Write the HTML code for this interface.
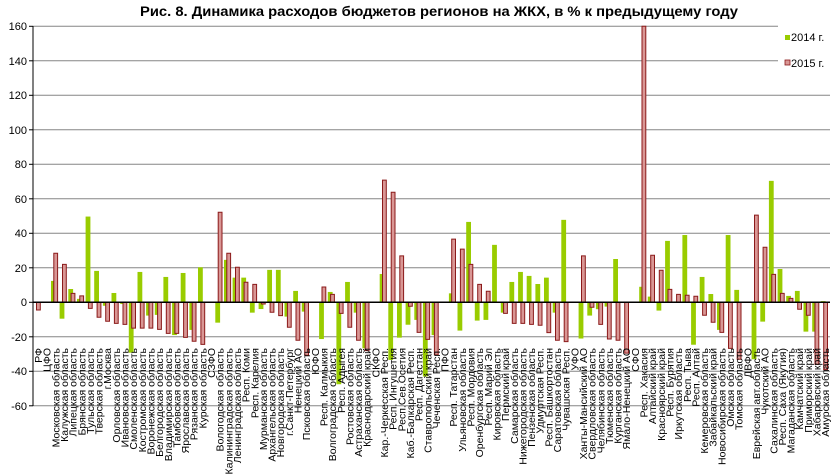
<!DOCTYPE html>
<html><head><meta charset="utf-8"><style>
html,body{margin:0;padding:0;background:#fff;}
svg{display:block;font-family:"Liberation Sans",sans-serif;}
.g{fill:#99cc00;}
.r{fill:#d99795;stroke:#8b1a1a;stroke-width:1;}
.lb text{font-size:10.5px;fill:#000;}
</style></head><body>
<svg width="835" height="474" viewBox="0 0 835 474" xmlns="http://www.w3.org/2000/svg">
<text x="439" y="16" text-anchor="middle" font-size="13.5" font-weight="bold" textLength="598" lengthAdjust="spacingAndGlyphs">Рис. 8. Динамика расходов бюджетов регионов на ЖКХ, в % к предыдущему году</text>
<g stroke="#868686" stroke-width="1">
<line x1="33" y1="26.3" x2="830" y2="26.3"/><line x1="33" y1="60.8" x2="830" y2="60.8"/><line x1="33" y1="95.3" x2="830" y2="95.3"/><line x1="33" y1="129.8" x2="830" y2="129.8"/><line x1="33" y1="164.3" x2="830" y2="164.3"/><line x1="33" y1="198.8" x2="830" y2="198.8"/><line x1="33" y1="233.3" x2="830" y2="233.3"/><line x1="33" y1="267.8" x2="830" y2="267.8"/><line x1="33" y1="336.8" x2="830" y2="336.8"/><line x1="33" y1="371.3" x2="830" y2="371.3"/><line x1="33" y1="405.8" x2="830" y2="405.8"/>
</g>
<g font-size="11" text-anchor="end">
<text x="27" y="30">160</text><text x="27" y="65">140</text><text x="27" y="99">120</text><text x="27" y="134">100</text><text x="27" y="168">80</text><text x="27" y="203">60</text><text x="27" y="237">40</text><text x="27" y="272">20</text><text x="27" y="306">0</text><text x="27" y="341">-20</text><text x="27" y="375">-40</text><text x="27" y="410">-60</text>
</g>
<g stroke="#000" stroke-width="1">
<line x1="33" y1="26" x2="33" y2="406"/>
<line x1="29" y1="26.3" x2="33" y2="26.3"/><line x1="29" y1="60.8" x2="33" y2="60.8"/><line x1="29" y1="95.3" x2="33" y2="95.3"/><line x1="29" y1="129.8" x2="33" y2="129.8"/><line x1="29" y1="164.3" x2="33" y2="164.3"/><line x1="29" y1="198.8" x2="33" y2="198.8"/><line x1="29" y1="233.3" x2="33" y2="233.3"/><line x1="29" y1="267.8" x2="33" y2="267.8"/><line x1="29" y1="302.3" x2="33" y2="302.3"/><line x1="29" y1="336.8" x2="33" y2="336.8"/><line x1="29" y1="371.3" x2="33" y2="371.3"/><line x1="29" y1="405.8" x2="33" y2="405.8"/>
</g>
<g transform="translate(0,302.3) scale(1,-1.725)">
<g class="g">
<rect x="51" y="0" width="4.8" height="12.4"/><rect x="59.6" y="-9.5" width="4.8" height="9.5"/><rect x="68.3" y="0" width="4.8" height="7.7"/><rect x="77" y="0" width="4.8" height="2"/><rect x="85.6" y="0" width="4.8" height="49.7"/><rect x="94.2" y="0" width="4.8" height="18.2"/><rect x="102.9" y="-2" width="4.8" height="2"/><rect x="111.5" y="0" width="4.8" height="5.4"/><rect x="120.2" y="-1" width="4.8" height="1"/><rect x="128.8" y="-29.2" width="4.8" height="29.2"/><rect x="137.5" y="0" width="4.8" height="17.6"/><rect x="146.1" y="-7.7" width="4.8" height="7.7"/><rect x="154.8" y="-7.3" width="4.8" height="7.3"/><rect x="163.4" y="0" width="4.8" height="14.7"/><rect x="172.1" y="-19" width="4.8" height="19"/><rect x="180.7" y="0" width="4.8" height="17"/><rect x="189.4" y="-16" width="4.8" height="16"/><rect x="198" y="0" width="4.8" height="20.3"/>
<rect x="215.3" y="-11.8" width="4.8" height="11.8"/><rect x="224" y="0" width="4.8" height="24.6"/><rect x="232.6" y="0" width="4.8" height="14.3"/><rect x="241.3" y="0" width="4.8" height="14.3"/><rect x="249.9" y="-6" width="4.8" height="6"/><rect x="258.6" y="-3.9" width="4.8" height="3.9"/><rect x="267.2" y="0" width="4.8" height="18.8"/><rect x="275.9" y="0" width="4.8" height="18.8"/><rect x="284.5" y="-8.3" width="4.8" height="8.3"/><rect x="293.2" y="0" width="4.8" height="6.6"/><rect x="301.8" y="-5.4" width="4.8" height="5.4"/>
<rect x="319.1" y="-21.3" width="4.8" height="21.3"/><rect x="327.8" y="0" width="4.8" height="6"/><rect x="336.4" y="-47.5" width="4.8" height="47.5"/><rect x="345.1" y="0" width="4.8" height="11.8"/><rect x="353.7" y="-6" width="4.8" height="6"/><rect x="362.4" y="-26.7" width="4.8" height="26.7"/>
<rect x="379.7" y="0" width="4.8" height="16.4"/><rect x="388.3" y="-33.4" width="4.8" height="33.4"/><rect x="397" y="-20.5" width="4.8" height="20.5"/><rect x="405.6" y="-13" width="4.8" height="13"/><rect x="414.3" y="-10.2" width="4.8" height="10.2"/><rect x="422.9" y="-43" width="4.8" height="43"/><rect x="431.6" y="-19" width="4.8" height="19"/>
<rect x="448.9" y="0" width="4.8" height="5.2"/><rect x="457.5" y="-16.4" width="4.8" height="16.4"/><rect x="466.2" y="0" width="4.8" height="46.6"/><rect x="474.8" y="-10.6" width="4.8" height="10.6"/><rect x="483.5" y="-10.2" width="4.8" height="10.2"/><rect x="492.1" y="0" width="4.8" height="33.3"/><rect x="500.8" y="-6" width="4.8" height="6"/><rect x="509.4" y="0" width="4.8" height="11.8"/><rect x="518.1" y="0" width="4.8" height="17.6"/><rect x="526.7" y="0" width="4.8" height="15.3"/><rect x="535.4" y="0" width="4.8" height="10.6"/><rect x="544" y="0" width="4.8" height="14.3"/><rect x="552.7" y="-6" width="4.8" height="6"/><rect x="561.3" y="0" width="4.8" height="47.8"/>
<rect x="578.6" y="-21" width="4.8" height="21"/><rect x="587.3" y="-7.7" width="4.8" height="7.7"/><rect x="595.9" y="-4" width="4.8" height="4"/><rect x="604.6" y="-2.5" width="4.8" height="2.5"/><rect x="613.2" y="0" width="4.8" height="25.1"/>
<rect x="639.2" y="0" width="4.8" height="9"/><rect x="647.8" y="0" width="4.8" height="3.3"/><rect x="656.5" y="-4.8" width="4.8" height="4.8"/><rect x="665.1" y="0" width="4.8" height="35.6"/><rect x="673.8" y="0" width="4.8" height="0.5"/><rect x="682.4" y="0" width="4.8" height="39"/><rect x="691.1" y="-24.6" width="4.8" height="24.6"/><rect x="699.7" y="0" width="4.8" height="14.7"/><rect x="708.4" y="0" width="4.8" height="4.8"/><rect x="717" y="-16" width="4.8" height="16"/><rect x="725.7" y="0" width="4.8" height="39"/><rect x="734.3" y="0" width="4.8" height="7.2"/>
<rect x="751.6" y="-33" width="4.8" height="33"/><rect x="760.3" y="-11.2" width="4.8" height="11.2"/><rect x="768.9" y="0" width="4.8" height="70.4"/><rect x="777.6" y="0" width="4.8" height="19.3"/><rect x="786.2" y="0" width="4.8" height="3.7"/><rect x="794.9" y="0" width="4.8" height="6.6"/><rect x="803.5" y="-17" width="4.8" height="17"/><rect x="812.2" y="-17" width="4.8" height="17"/><rect x="820.8" y="0" width="4.8" height="0.7"/>
</g>
<g class="r" vector-effect="non-scaling-stroke">
<rect vector-effect="non-scaling-stroke" x="36.5" y="-4.5" width="3.8" height="4.5"/>
<rect vector-effect="non-scaling-stroke" x="53.8" y="0" width="3.8" height="28.4"/>
<rect vector-effect="non-scaling-stroke" x="62.5" y="0" width="3.8" height="22"/>
<rect vector-effect="non-scaling-stroke" x="71.1" y="0" width="3.8" height="5.2"/>
<rect vector-effect="non-scaling-stroke" x="79.8" y="0" width="3.8" height="3.7"/>
<rect vector-effect="non-scaling-stroke" x="88.4" y="-3.5" width="3.8" height="3.5"/>
<rect vector-effect="non-scaling-stroke" x="97.1" y="-8.7" width="3.8" height="8.7"/>
<rect vector-effect="non-scaling-stroke" x="105.7" y="-11" width="3.8" height="11"/>
<rect vector-effect="non-scaling-stroke" x="114.4" y="-12.2" width="3.8" height="12.2"/>
<rect vector-effect="non-scaling-stroke" x="123" y="-12.8" width="3.8" height="12.8"/>
<rect vector-effect="non-scaling-stroke" x="131.7" y="-15" width="3.8" height="15"/>
<rect vector-effect="non-scaling-stroke" x="140.3" y="-15" width="3.8" height="15"/>
<rect vector-effect="non-scaling-stroke" x="149" y="-15" width="3.8" height="15"/>
<rect vector-effect="non-scaling-stroke" x="157.6" y="-15.7" width="3.8" height="15.7"/>
<rect vector-effect="non-scaling-stroke" x="166.3" y="-18" width="3.8" height="18"/>
<rect vector-effect="non-scaling-stroke" x="174.9" y="-18" width="3.8" height="18"/>
<rect vector-effect="non-scaling-stroke" x="183.6" y="-20.3" width="3.8" height="20.3"/>
<rect vector-effect="non-scaling-stroke" x="192.2" y="-22.6" width="3.8" height="22.6"/>
<rect vector-effect="non-scaling-stroke" x="200.9" y="-24.4" width="3.8" height="24.4"/>
<rect vector-effect="non-scaling-stroke" x="218.2" y="0" width="3.8" height="52.2"/>
<rect vector-effect="non-scaling-stroke" x="226.8" y="0" width="3.8" height="28.4"/>
<rect vector-effect="non-scaling-stroke" x="235.5" y="0" width="3.8" height="20.3"/>
<rect vector-effect="non-scaling-stroke" x="244.1" y="0" width="3.8" height="11.6"/>
<rect vector-effect="non-scaling-stroke" x="252.8" y="0" width="3.8" height="10.4"/>
<rect vector-effect="non-scaling-stroke" x="261.4" y="-1" width="3.8" height="1"/>
<rect vector-effect="non-scaling-stroke" x="270.1" y="-5.8" width="3.8" height="5.8"/>
<rect vector-effect="non-scaling-stroke" x="278.7" y="-7.7" width="3.8" height="7.7"/>
<rect vector-effect="non-scaling-stroke" x="287.4" y="-14.5" width="3.8" height="14.5"/>
<rect vector-effect="non-scaling-stroke" x="296" y="-22" width="3.8" height="22"/>
<rect vector-effect="non-scaling-stroke" x="304.7" y="-30.7" width="3.8" height="30.7"/>
<rect vector-effect="non-scaling-stroke" x="322" y="0" width="3.8" height="8.9"/>
<rect vector-effect="non-scaling-stroke" x="330.6" y="0" width="3.8" height="4.6"/>
<rect vector-effect="non-scaling-stroke" x="339.3" y="-6.4" width="3.8" height="6.4"/>
<rect vector-effect="non-scaling-stroke" x="347.9" y="-14.5" width="3.8" height="14.5"/>
<rect vector-effect="non-scaling-stroke" x="356.6" y="-22" width="3.8" height="22"/>
<rect vector-effect="non-scaling-stroke" x="365.2" y="-28" width="3.8" height="28"/>
<rect vector-effect="non-scaling-stroke" x="382.5" y="0" width="3.8" height="70.8"/>
<rect vector-effect="non-scaling-stroke" x="391.2" y="0" width="3.8" height="63.8"/>
<rect vector-effect="non-scaling-stroke" x="399.8" y="0" width="3.8" height="26.9"/>
<rect vector-effect="non-scaling-stroke" x="408.5" y="-2.3" width="3.8" height="2.3"/>
<rect vector-effect="non-scaling-stroke" x="417.1" y="-17.4" width="3.8" height="17.4"/>
<rect vector-effect="non-scaling-stroke" x="425.8" y="-21.5" width="3.8" height="21.5"/>
<rect vector-effect="non-scaling-stroke" x="434.4" y="-30.5" width="3.8" height="30.5"/>
<rect vector-effect="non-scaling-stroke" x="451.7" y="0" width="3.8" height="36.6"/>
<rect vector-effect="non-scaling-stroke" x="460.4" y="0" width="3.8" height="30.8"/>
<rect vector-effect="non-scaling-stroke" x="469" y="0" width="3.8" height="22"/>
<rect vector-effect="non-scaling-stroke" x="477.7" y="0" width="3.8" height="10.4"/>
<rect vector-effect="non-scaling-stroke" x="486.3" y="0" width="3.8" height="6.4"/>
<rect vector-effect="non-scaling-stroke" x="503.6" y="-6.4" width="3.8" height="6.4"/>
<rect vector-effect="non-scaling-stroke" x="512.3" y="-12.2" width="3.8" height="12.2"/>
<rect vector-effect="non-scaling-stroke" x="520.9" y="-12.2" width="3.8" height="12.2"/>
<rect vector-effect="non-scaling-stroke" x="529.6" y="-12.8" width="3.8" height="12.8"/>
<rect vector-effect="non-scaling-stroke" x="538.2" y="-13.3" width="3.8" height="13.3"/>
<rect vector-effect="non-scaling-stroke" x="546.9" y="-17.6" width="3.8" height="17.6"/>
<rect vector-effect="non-scaling-stroke" x="555.5" y="-22" width="3.8" height="22"/>
<rect vector-effect="non-scaling-stroke" x="564.2" y="-22.8" width="3.8" height="22.8"/>
<rect vector-effect="non-scaling-stroke" x="581.5" y="0" width="3.8" height="26.9"/>
<rect vector-effect="non-scaling-stroke" x="590.1" y="-2.9" width="3.8" height="2.9"/>
<rect vector-effect="non-scaling-stroke" x="598.8" y="-12.8" width="3.8" height="12.8"/>
<rect vector-effect="non-scaling-stroke" x="607.4" y="-21.3" width="3.8" height="21.3"/>
<rect vector-effect="non-scaling-stroke" x="616.1" y="-22" width="3.8" height="22"/>
<rect vector-effect="non-scaling-stroke" x="624.7" y="-29.5" width="3.8" height="29.5"/>
<rect vector-effect="non-scaling-stroke" x="642" y="0" width="3.8" height="160"/>
<rect vector-effect="non-scaling-stroke" x="650.7" y="0" width="3.8" height="27.3"/>
<rect vector-effect="non-scaling-stroke" x="659.3" y="0" width="3.8" height="18.6"/>
<rect vector-effect="non-scaling-stroke" x="668" y="0" width="3.8" height="7.5"/>
<rect vector-effect="non-scaling-stroke" x="676.6" y="0" width="3.8" height="4.6"/>
<rect vector-effect="non-scaling-stroke" x="685.3" y="0" width="3.8" height="4.1"/>
<rect vector-effect="non-scaling-stroke" x="693.9" y="0" width="3.8" height="3.5"/>
<rect vector-effect="non-scaling-stroke" x="702.6" y="-7.5" width="3.8" height="7.5"/>
<rect vector-effect="non-scaling-stroke" x="711.2" y="-11.6" width="3.8" height="11.6"/>
<rect vector-effect="non-scaling-stroke" x="719.9" y="-17.4" width="3.8" height="17.4"/>
<rect vector-effect="non-scaling-stroke" x="728.5" y="-26.7" width="3.8" height="26.7"/>
<rect vector-effect="non-scaling-stroke" x="737.2" y="-33" width="3.8" height="33"/>
<rect vector-effect="non-scaling-stroke" x="754.5" y="0" width="3.8" height="50.5"/>
<rect vector-effect="non-scaling-stroke" x="763.1" y="0" width="3.8" height="31.9"/>
<rect vector-effect="non-scaling-stroke" x="771.8" y="0" width="3.8" height="16.2"/>
<rect vector-effect="non-scaling-stroke" x="780.4" y="0" width="3.8" height="5.2"/>
<rect vector-effect="non-scaling-stroke" x="789.1" y="0" width="3.8" height="2.3"/>
<rect vector-effect="non-scaling-stroke" x="797.7" y="-4" width="3.8" height="4"/>
<rect vector-effect="non-scaling-stroke" x="806.4" y="-7.5" width="3.8" height="7.5"/>
<rect vector-effect="non-scaling-stroke" x="815" y="-36" width="3.8" height="36"/>
<rect vector-effect="non-scaling-stroke" x="823.7" y="-39" width="3.8" height="39"/>
</g>
</g>
<line x1="33" y1="302.3" x2="830" y2="302.3" stroke="#000" stroke-width="1.5"/>
<g class="lb" text-anchor="end">
<text transform="translate(42,348) rotate(-90)">РФ</text>
<text transform="translate(50.6,348) rotate(-90)">ЦФО</text>
<text transform="translate(59.3,348) rotate(-90)">Московская область</text>
<text transform="translate(68,348) rotate(-90)">Калужская область</text>
<text transform="translate(76.6,348) rotate(-90)">Липецкая область</text>
<text transform="translate(85.3,348) rotate(-90)">Брянская область</text>
<text transform="translate(93.9,348) rotate(-90)">Тульская область</text>
<text transform="translate(102.6,348) rotate(-90)">Тверская область</text>
<text transform="translate(111.2,348) rotate(-90)">г.Москва</text>
<text transform="translate(119.9,348) rotate(-90)">Орловская область</text>
<text transform="translate(128.5,348) rotate(-90)">Ивановская область</text>
<text transform="translate(137.2,348) rotate(-90)">Смоленская область</text>
<text transform="translate(145.8,348) rotate(-90)">Костромская область</text>
<text transform="translate(154.5,348) rotate(-90)">Воронежская область</text>
<text transform="translate(163.1,348) rotate(-90)">Белгородская область</text>
<text transform="translate(171.8,348) rotate(-90)">Владимирская область</text>
<text transform="translate(180.4,348) rotate(-90)">Тамбовская область</text>
<text transform="translate(189.1,348) rotate(-90)">Ярославская область</text>
<text transform="translate(197.7,348) rotate(-90)">Рязанская область</text>
<text transform="translate(206.4,348) rotate(-90)">Курская область</text>
<text transform="translate(215,348) rotate(-90)">СЗФО</text>
<text transform="translate(223.7,348) rotate(-90)">Вологодская область</text>
<text transform="translate(232.3,348) rotate(-90)">Калининградская область</text>
<text transform="translate(241,348) rotate(-90)">Ленинградская область</text>
<text transform="translate(249.6,348) rotate(-90)">Респ. Коми</text>
<text transform="translate(258.3,348) rotate(-90)">Респ. Карелия</text>
<text transform="translate(266.9,348) rotate(-90)">Мурманская область</text>
<text transform="translate(275.6,348) rotate(-90)">Архангельская область</text>
<text transform="translate(284.2,348) rotate(-90)">Новгородская область</text>
<text transform="translate(292.9,348) rotate(-90)">г.Санкт-Петербург</text>
<text transform="translate(301.5,348) rotate(-90)">Ненецкий АО</text>
<text transform="translate(310.2,348) rotate(-90)">Псковская область</text>
<text transform="translate(318.8,348) rotate(-90)">ЮФО</text>
<text transform="translate(327.5,348) rotate(-90)">Респ. Калмыкия</text>
<text transform="translate(336.1,348) rotate(-90)">Волгоградская область</text>
<text transform="translate(344.8,348) rotate(-90)">Респ. Адыгея</text>
<text transform="translate(353.4,348) rotate(-90)">Ростовская область</text>
<text transform="translate(362.1,348) rotate(-90)">Астраханская область</text>
<text transform="translate(370.7,348) rotate(-90)">Краснодарский край</text>
<text transform="translate(379.4,348) rotate(-90)">СКФО</text>
<text transform="translate(388,348) rotate(-90)">Кар.-Черкесская Респ.</text>
<text transform="translate(396.7,348) rotate(-90)">Респ. Ингушетия</text>
<text transform="translate(405.3,348) rotate(-90)">Респ.Сев.Осетия</text>
<text transform="translate(414,348) rotate(-90)">Каб.-Балкарская Респ.</text>
<text transform="translate(422.6,348) rotate(-90)">Респ. Дагестан</text>
<text transform="translate(431.3,348) rotate(-90)">Ставропольский край</text>
<text transform="translate(439.9,348) rotate(-90)">Чеченская Респ.</text>
<text transform="translate(448.6,348) rotate(-90)">ПФО</text>
<text transform="translate(457.2,348) rotate(-90)">Респ. Татарстан</text>
<text transform="translate(465.9,348) rotate(-90)">Ульяновская область</text>
<text transform="translate(474.5,348) rotate(-90)">Респ. Мордовия</text>
<text transform="translate(483.2,348) rotate(-90)">Оренбургская область</text>
<text transform="translate(491.8,348) rotate(-90)">Респ. Марий Эл</text>
<text transform="translate(500.5,348) rotate(-90)">Кировская область</text>
<text transform="translate(509.1,348) rotate(-90)">Пермский край</text>
<text transform="translate(517.8,348) rotate(-90)">Самарская область</text>
<text transform="translate(526.4,348) rotate(-90)">Нижегородская область</text>
<text transform="translate(535.1,348) rotate(-90)">Пензенская область</text>
<text transform="translate(543.7,348) rotate(-90)">Удмуртская Респ.</text>
<text transform="translate(552.4,348) rotate(-90)">Респ. Башкортостан</text>
<text transform="translate(561,348) rotate(-90)">Саратовская область</text>
<text transform="translate(569.7,348) rotate(-90)">Чувашская Респ.</text>
<text transform="translate(578.3,348) rotate(-90)">УФО</text>
<text transform="translate(587,348) rotate(-90)">Ханты-Мансийский АО</text>
<text transform="translate(595.6,348) rotate(-90)">Свердловская область</text>
<text transform="translate(604.3,348) rotate(-90)">Челябинская область</text>
<text transform="translate(612.9,348) rotate(-90)">Тюменская область</text>
<text transform="translate(621.6,348) rotate(-90)">Курганская область</text>
<text transform="translate(630.2,348) rotate(-90)">Ямало-Ненецкий АО</text>
<text transform="translate(638.9,348) rotate(-90)">СФО</text>
<text transform="translate(647.5,348) rotate(-90)">Респ. Хакасия</text>
<text transform="translate(656.2,348) rotate(-90)">Алтайский край</text>
<text transform="translate(664.8,348) rotate(-90)">Красноярский край</text>
<text transform="translate(673.5,348) rotate(-90)">Респ. Бурятия</text>
<text transform="translate(682.1,348) rotate(-90)">Иркутская область</text>
<text transform="translate(690.8,348) rotate(-90)">Респ. Тыва</text>
<text transform="translate(699.4,348) rotate(-90)">Респ. Алтай</text>
<text transform="translate(708.1,348) rotate(-90)">Кемеровская область</text>
<text transform="translate(716.7,348) rotate(-90)">Забайкальский край</text>
<text transform="translate(725.4,348) rotate(-90)">Новосибирская область</text>
<text transform="translate(734,348) rotate(-90)">Омская область</text>
<text transform="translate(742.7,348) rotate(-90)">Томская область</text>
<text transform="translate(751.3,348) rotate(-90)">ДВФО</text>
<text transform="translate(760,348) rotate(-90)">Еврейская авт.область</text>
<text transform="translate(768.6,348) rotate(-90)">Чукотский АО</text>
<text transform="translate(777.3,348) rotate(-90)">Сахалинская область</text>
<text transform="translate(785.9,348) rotate(-90)">Респ. Саха (Якутия)</text>
<text transform="translate(794.6,348) rotate(-90)">Магаданская область</text>
<text transform="translate(803.2,348) rotate(-90)">Камчатский край</text>
<text transform="translate(811.9,348) rotate(-90)">Приморский край</text>
<text transform="translate(820.5,348) rotate(-90)">Хабаровский край</text>
<text transform="translate(829.2,348) rotate(-90)">Амурская область</text>
</g>
<rect x="778" y="22" width="57" height="56" fill="#fff"/>
<rect x="785" y="35" width="5" height="5" fill="#99cc00"/>
<text x="791" y="41" font-size="11">2014 г.</text>
<rect x="785" y="60" width="5" height="5" fill="#d99795" stroke="#8b1a1a" stroke-width="0.8"/>
<text x="791" y="67" font-size="11">2015 г.</text>
</svg>
</body></html>
